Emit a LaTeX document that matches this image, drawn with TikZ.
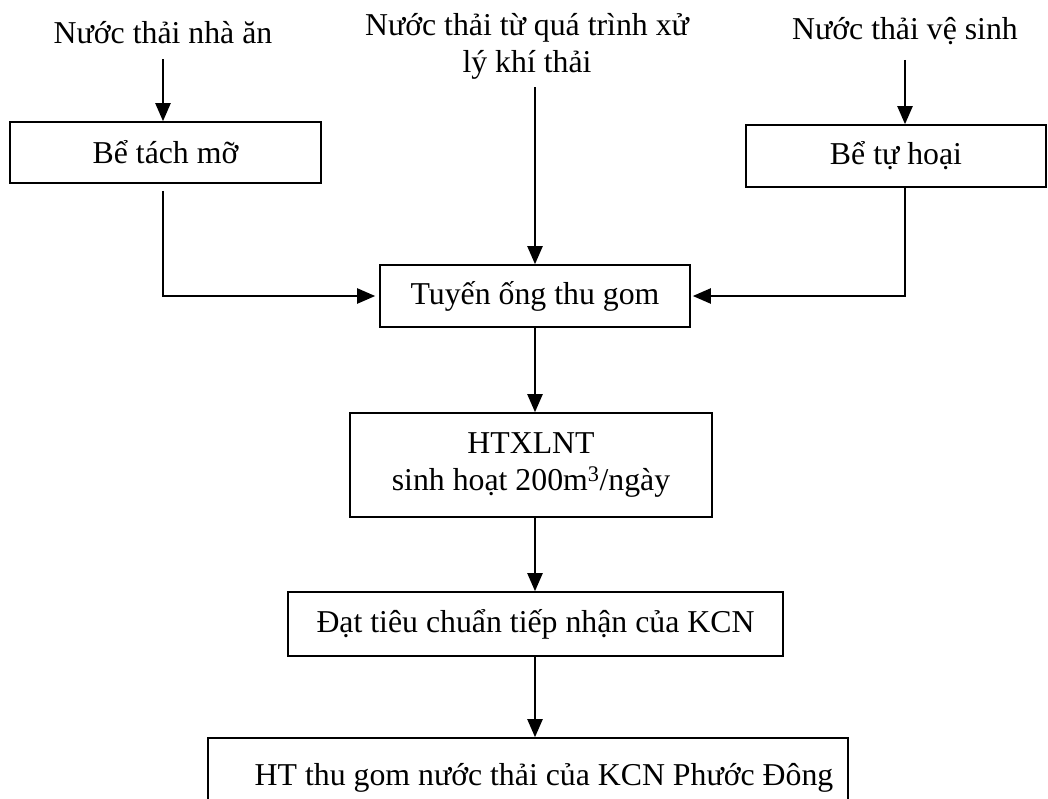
\documentclass[tikz,border=0pt]{standalone}
\usepackage{fontspec}
\setmainfont{Liberation Serif}
\usepackage{tikz}
\usetikzlibrary{arrows.meta,positioning}

\begin{document}
\begin{tikzpicture}[
  x=1pt,y=-1pt,
  font=\fontsize{31.8}{37}\selectfont,
  box/.style={rectangle,draw=black,line width=1.6pt,align=center,inner sep=0pt},
  src/.style={align=center,inner sep=0pt},
  arrow/.style={-{Triangle[length=18pt,width=15pt]},line width=2.2pt}
]
\useasboundingbox (0,0) rectangle (1048,798);
\clip (0,0) rectangle (1048,798);
% sources
\node[src] (nha) at (163,33) {Nước thải nhà ăn};
\node[src] (khi) at (527,46) {Nước thải từ quá trình xử\\lý khí thải};
\node[src] (vs) at (905,31) {Nước thải vệ sinh};
% boxes
\node[box,minimum width=311pt,minimum height=61pt] (tach) at (165.5,152.5) {Bể tách mỡ};
\node[box,minimum width=300pt,minimum height=62pt] (hoai) at (896,156) {Bể tự hoại};
\node[box,minimum width=310pt,minimum height=62pt] (tuyen) at (535,296) {Tuyến ống thu gom};
\node[box,minimum width=362pt,minimum height=104pt] (htxl) at (531,465) {HTXLNT\\sinh hoạt 200m\textsuperscript{3}/ngày};
\node[box,minimum width=495pt,minimum height=64pt] (dat) at (535.5,624) {Đạt tiêu chuẩn tiếp nhận của KCN};
\node[box,minimum width=640pt,minimum height=80pt] (ht) at (528,778) {\hspace*{32pt}HT thu gom nước thải của KCN Phước Đông};
% connectors
\draw[arrow,shorten <=15pt] (nha.south) -- (nha.south |- tach.north);
\draw[arrow,shorten <=15pt] (vs.south) -- (vs.south |- hoai.north);
\draw[arrow,shorten <=7pt,shorten >=4pt] (nha.south |- tach.south) |- (tuyen.west);
\draw[arrow,shorten >=2pt] (vs.south |- hoai.south) |- (tuyen.east);
\draw[arrow,shorten <=8pt] (tuyen.north |- khi.south) -- (tuyen.north);
\draw[arrow] (tuyen.south) -- (tuyen.south |- htxl.north);
\draw[arrow] (tuyen.south |- htxl.south) -- (tuyen.south |- dat.north);
\draw[arrow] (tuyen.south |- dat.south) -- (tuyen.south |- ht.north);
\end{tikzpicture}
\end{document}
